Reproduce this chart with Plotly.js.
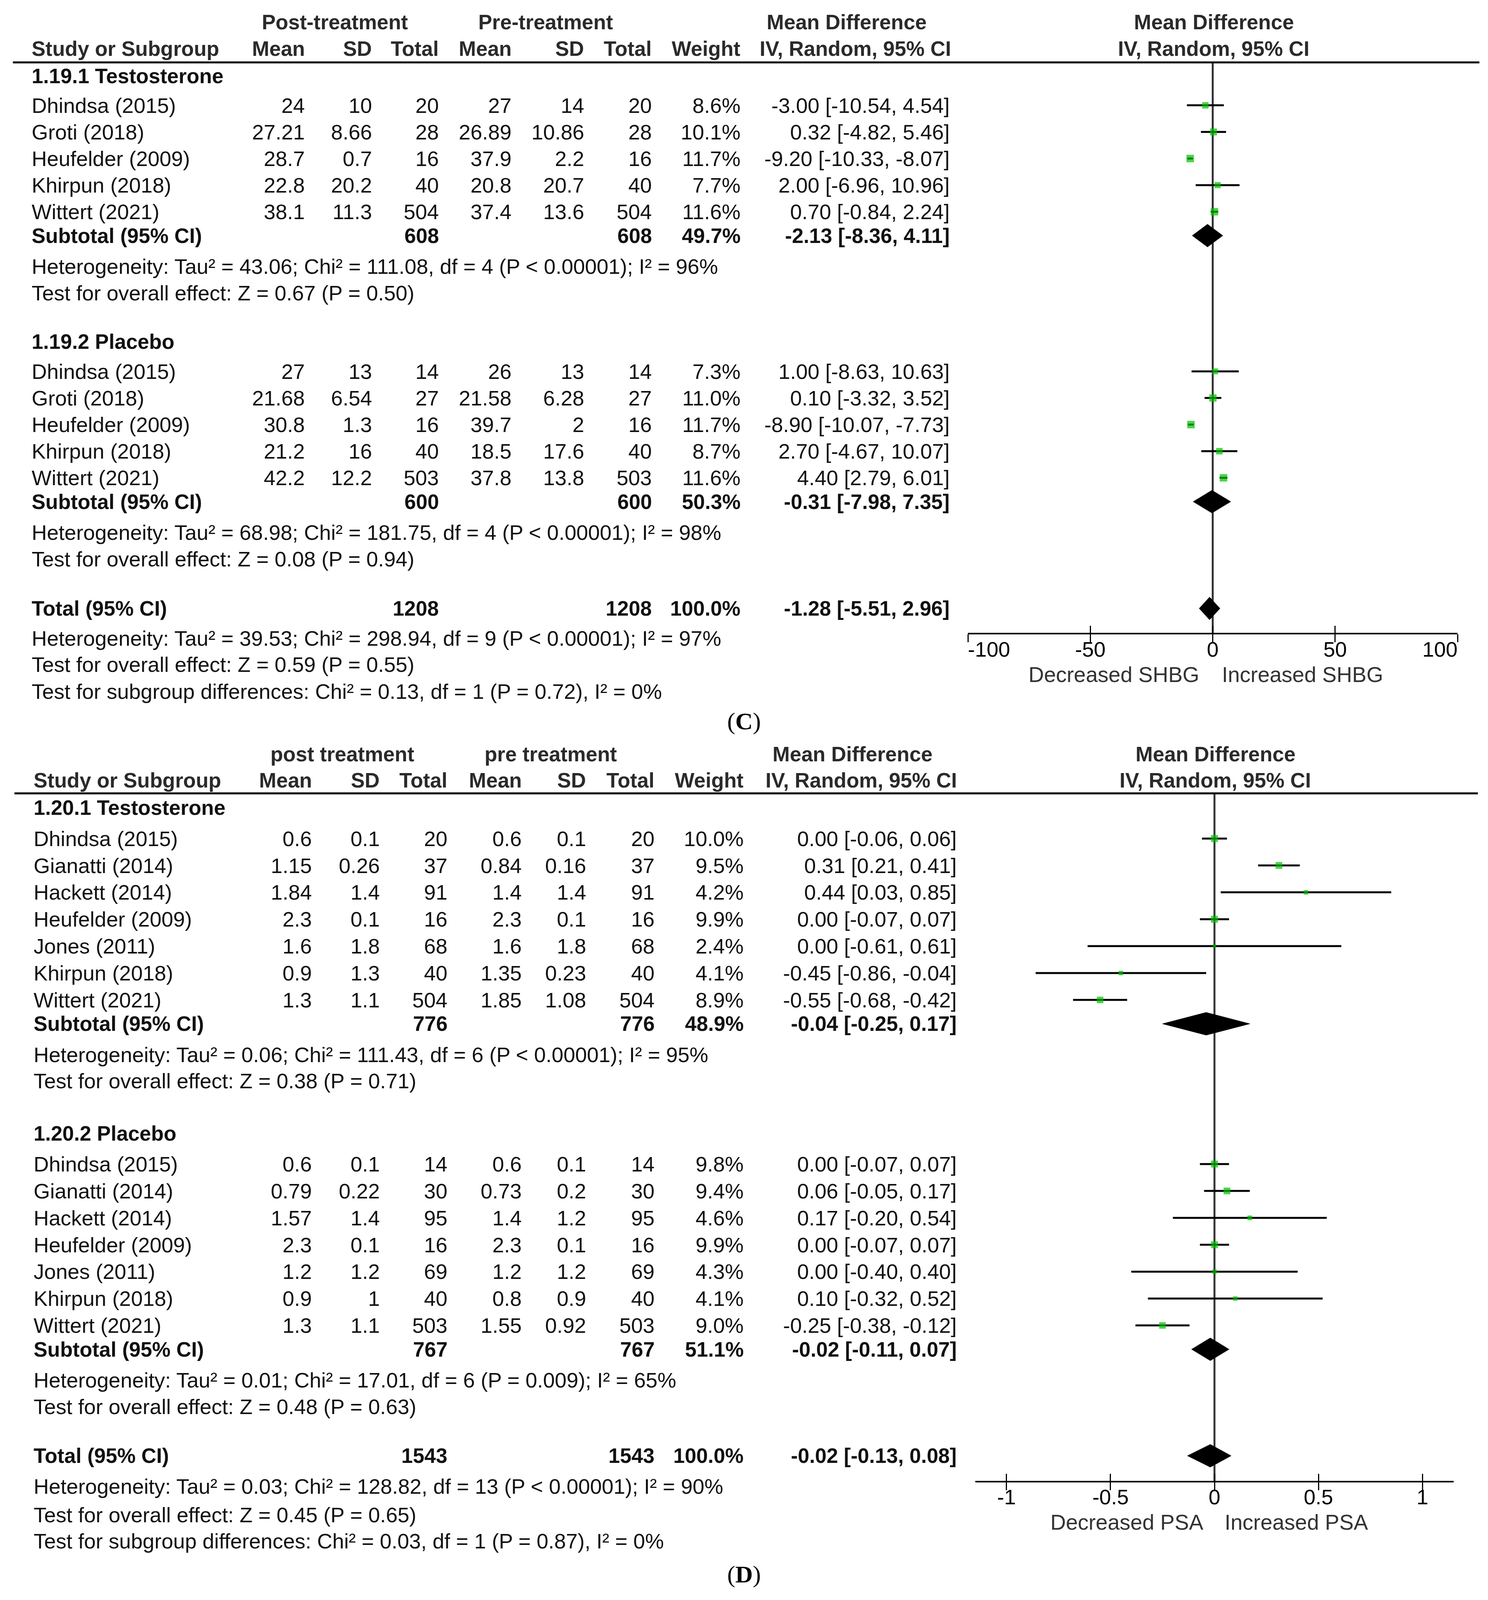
<!DOCTYPE html>
<html><head><meta charset="utf-8">
<script src="https://cdn.plot.ly/plotly-3.0.1.min.js"></script>
<style>html,body{margin:0;padding:0;background:#fff;overflow:hidden}</style>
</head><body><div id="chart" style="width:3808px"></div>
<script>
// ================= DATA =================
// Row format: [study, postMean, postSD, postTotal, preMean, preSD, preTotal, weight%, MD, lower, upper]
const cHeaderGroups = ['Post-treatment', 'Pre-treatment'];
const cGroupNames = ['1.19.1 Testosterone', '1.19.2 Placebo'];
const cRowsTestosterone = [
  ['Dhindsa (2015)', 24, 10, 20, 27, 14, 20, 8.6, -3.00, -10.54, 4.54],
  ['Groti (2018)', 27.21, 8.66, 28, 26.89, 10.86, 28, 10.1, 0.32, -4.82, 5.46],
  ['Heufelder (2009)', 28.7, 0.7, 16, 37.9, 2.2, 16, 11.7, -9.20, -10.33, -8.07],
  ['Khirpun (2018)', 22.8, 20.2, 40, 20.8, 20.7, 40, 7.7, 2.00, -6.96, 10.96],
  ['Wittert (2021)', 38.1, 11.3, 504, 37.4, 13.6, 504, 11.6, 0.70, -0.84, 2.24]
];
const cRowsPlacebo = [
  ['Dhindsa (2015)', 27, 13, 14, 26, 13, 14, 7.3, 1.00, -8.63, 10.63],
  ['Groti (2018)', 21.68, 6.54, 27, 21.58, 6.28, 27, 11.0, 0.10, -3.32, 3.52],
  ['Heufelder (2009)', 30.8, 1.3, 16, 39.7, 2, 16, 11.7, -8.90, -10.07, -7.73],
  ['Khirpun (2018)', 21.2, 16, 40, 18.5, 17.6, 40, 8.7, 2.70, -4.67, 10.07],
  ['Wittert (2021)', 42.2, 12.2, 503, 37.8, 13.8, 503, 11.6, 4.40, 2.79, 6.01]
];
// [postTotal, preTotal, weight, MD, lower, upper]
const cSubtotals = [[608, 608, 49.7, -2.13, -8.36, 4.11], [600, 600, 50.3, -0.31, -7.98, 7.35]];
const cTotal = [1208, 1208, 100.0, -1.28, -5.51, 2.96];
const cHeterogeneity = [
  'Heterogeneity: Tau² = 43.06; Chi² = 111.08, df = 4 (P &lt; 0.00001); I² = 96%',
  'Heterogeneity: Tau² = 68.98; Chi² = 181.75, df = 4 (P &lt; 0.00001); I² = 98%'
];
const cOverall = ['Test for overall effect: Z = 0.67 (P = 0.50)', 'Test for overall effect: Z = 0.08 (P = 0.94)'];
const cTotalTexts = [
  'Heterogeneity: Tau² = 39.53; Chi² = 298.94, df = 9 (P &lt; 0.00001); I² = 97%',
  'Test for overall effect: Z = 0.59 (P = 0.55)',
  'Test for subgroup differences: Chi² = 0.13, df = 1 (P = 0.72), I² = 0%'
];
const cTicks = [-100, -50, 0, 50, 100];
const cAxisLabels = ['Decreased SHBG', 'Increased SHBG'];

const dHeaderGroups = ['post treatment', 'pre treatment'];
const dGroupNames = ['1.20.1 Testosterone', '1.20.2 Placebo'];
const dRowsTestosterone = [
  ['Dhindsa (2015)', 0.6, 0.1, 20, 0.6, 0.1, 20, 10.0, 0.00, -0.06, 0.06],
  ['Gianatti (2014)', 1.15, 0.26, 37, 0.84, 0.16, 37, 9.5, 0.31, 0.21, 0.41],
  ['Hackett (2014)', 1.84, 1.4, 91, 1.4, 1.4, 91, 4.2, 0.44, 0.03, 0.85],
  ['Heufelder (2009)', 2.3, 0.1, 16, 2.3, 0.1, 16, 9.9, 0.00, -0.07, 0.07],
  ['Jones (2011)', 1.6, 1.8, 68, 1.6, 1.8, 68, 2.4, 0.00, -0.61, 0.61],
  ['Khirpun (2018)', 0.9, 1.3, 40, 1.35, 0.23, 40, 4.1, -0.45, -0.86, -0.04],
  ['Wittert (2021)', 1.3, 1.1, 504, 1.85, 1.08, 504, 8.9, -0.55, -0.68, -0.42]
];
const dRowsPlacebo = [
  ['Dhindsa (2015)', 0.6, 0.1, 14, 0.6, 0.1, 14, 9.8, 0.00, -0.07, 0.07],
  ['Gianatti (2014)', 0.79, 0.22, 30, 0.73, 0.2, 30, 9.4, 0.06, -0.05, 0.17],
  ['Hackett (2014)', 1.57, 1.4, 95, 1.4, 1.2, 95, 4.6, 0.17, -0.20, 0.54],
  ['Heufelder (2009)', 2.3, 0.1, 16, 2.3, 0.1, 16, 9.9, 0.00, -0.07, 0.07],
  ['Jones (2011)', 1.2, 1.2, 69, 1.2, 1.2, 69, 4.3, 0.00, -0.40, 0.40],
  ['Khirpun (2018)', 0.9, 1, 40, 0.8, 0.9, 40, 4.1, 0.10, -0.32, 0.52],
  ['Wittert (2021)', 1.3, 1.1, 503, 1.55, 0.92, 503, 9.0, -0.25, -0.38, -0.12]
];
const dSubtotals = [[776, 776, 48.9, -0.04, -0.25, 0.17], [767, 767, 51.1, -0.02, -0.11, 0.07]];
const dTotal = [1543, 1543, 100.0, -0.02, -0.13, 0.08];
const dHeterogeneity = [
  'Heterogeneity: Tau² = 0.06; Chi² = 111.43, df = 6 (P &lt; 0.00001); I² = 95%',
  'Heterogeneity: Tau² = 0.01; Chi² = 17.01, df = 6 (P = 0.009); I² = 65%'
];
const dOverall = ['Test for overall effect: Z = 0.38 (P = 0.71)', 'Test for overall effect: Z = 0.48 (P = 0.63)'];
const dTotalTexts = [
  'Heterogeneity: Tau² = 0.03; Chi² = 128.82, df = 13 (P &lt; 0.00001); I² = 90%',
  'Test for overall effect: Z = 0.45 (P = 0.65)',
  'Test for subgroup differences: Chi² = 0.03, df = 1 (P = 0.87), I² = 0%'
];
const dTicks = [-1, -0.5, 0, 0.5, 1];
const dAxisLabels = ['Decreased PSA', 'Increased PSA'];

const colHeaders = ['Mean', 'SD', 'Total', 'Mean', 'SD', 'Total', 'Weight'];

// ================= LAYOUT (pixel geometry, in reference-image units) =================
const W = 3808, H = 4360;
// the visible page may be shorter than the reference; fit the whole figure into it
const VIEW_H = (window.innerHeight && window.innerHeight > 500) ? Math.min(window.innerHeight, H) : H;
document.getElementById('chart').style.height = VIEW_H + 'px';

const FONT = 'Liberation Sans, Arial, sans-serif';
const SERIF = 'Liberation Serif, Times New Roman, serif';
const TXT = '#111';
const HC = '#2a2a2a';

const panelC = {
  letter: 'C', letterY: 1966, headerGroups: cHeaderGroups, groupNames: cGroupNames,
  groups: [cRowsTestosterone, cRowsPlacebo], subtotals: cSubtotals, total: cTotal,
  het: cHeterogeneity, overall: cOverall, totalTexts: cTotalTexts, ticks: cTicks, axisLabels: cAxisLabels,
  hY1: 60, hY2: 133, lineY: 170, lineX: [33, 3786], left: 79,
  colRight: [782, 954, 1125, 1311, 1497, 1670, 1897], mdRight: 2432,
  grpCenters: [857, 1396], mdHdr: [2166, 2189], forestHdr: 3106,
  groupLabelY: [207, 931], firstRowY: [287, 1012], rowStep: 72.5,
  totalY: 1658, totalTextY: [1739, 1811, 1884],
  axisY: 1727, tickLabelY: 1775, axisTitleY: 1838, axisPx: [2477, 3730], range: [-100, 100],
  decRight: 3071, incLeft: 3125, xa: 'x', xaOver: 'x3'
};
const panelD = {
  letter: 'D', letterY: 4290, headerGroups: dHeaderGroups, groupNames: dGroupNames,
  groups: [dRowsTestosterone, dRowsPlacebo], subtotals: dSubtotals, total: dTotal,
  het: dHeterogeneity, overall: dOverall, totalTexts: dTotalTexts, ticks: dTicks, axisLabels: dAxisLabels,
  hY1: 2055, hY2: 2126, lineY: 2162, lineX: [37, 3782], left: 84,
  colRight: [800, 974, 1147, 1337, 1502, 1677, 1905], mdRight: 2450,
  grpCenters: [876, 1409], mdHdr: [2181, 2204], forestHdr: 3110,
  groupLabelY: [2201, 3089], firstRowY: [2285, 3172], rowStep: 73.3,
  totalY: 3967, totalTextY: [4050, 4128, 4199],
  axisY: 4037, tickLabelY: 4085, axisTitleY: 4148, axisPx: [2496, 3720], range: [-1.15, 1.15],
  decRight: 3082, incLeft: 3132, xa: 'x2', xaOver: 'x4'
};

const SUB_OFF = 65, HET_OFF = 84, TEST_OFF = 72, DIAMOND_HALF = 31;

const annotations = [], shapes = [], traces = [];

function ann(text, xpx, ypx, anchor, opts) {
  opts = opts || {};
  annotations.push({
    text: opts.bold ? '<b>' + text + '</b>' : text,
    x: xpx / W, xref: 'paper', y: ypx, yref: 'y',
    xanchor: anchor, yanchor: 'middle', showarrow: false,
    font: { family: opts.family || FONT, size: opts.size || (opts.bold ? 53 : 54), color: opts.color || TXT }
  });
}
const fmt = v => String(v);
const fmtMD = (m, l, h) => m.toFixed(2) + ' [' + l.toFixed(2) + ', ' + h.toFixed(2) + ']';

function buildPanel(P) {
  ann(P.headerGroups[0], P.grpCenters[0], P.hY1, 'center', { bold: true, color: HC });
  ann(P.headerGroups[1], P.grpCenters[1], P.hY1, 'center', { bold: true, color: HC });
  ann('Mean Difference', P.mdHdr[0], P.hY1, 'center', { bold: true, color: HC });
  ann('Mean Difference', P.forestHdr, P.hY1, 'center', { bold: true, color: HC });
  ann('Study or Subgroup', P.left, P.hY2, 'left', { bold: true, color: HC });
  colHeaders.forEach((h, i) => ann(h, P.colRight[i], P.hY2, 'right', { bold: true, color: HC }));
  ann('IV, Random, 95% CI', P.mdHdr[1], P.hY2, 'center', { bold: true, color: HC });
  ann('IV, Random, 95% CI', P.forestHdr, P.hY2, 'center', { bold: true, color: HC });
  shapes.push({ type: 'line', xref: 'paper', yref: 'y', x0: P.lineX[0] / W, x1: P.lineX[1] / W,
    y0: P.lineY, y1: P.lineY, line: { color: '#000', width: 5 } });

  const sqX = [], sqY = [], sqS = [], ciX = [], ciY = [], dmX = [], dmY = [];
  function diamond(md, lo, hi, y) {
    dmX.push(lo, md, hi, md, lo, null);
    dmY.push(y, y - DIAMOND_HALF, y, y + DIAMOND_HALF, y, null);
  }

  P.groups.forEach((rows, g) => {
    ann(P.groupNames[g], P.left, P.groupLabelY[g], 'left', { bold: true });
    let y = P.firstRowY[g];
    rows.forEach((r, i) => {
      y = P.firstRowY[g] + i * P.rowStep;
      ann(r[0], P.left, y, 'left');
      for (let c = 1; c <= 6; c++) ann(fmt(r[c]), P.colRight[c - 1], y, 'right');
      ann(r[7].toFixed(1) + '%', P.colRight[6], y, 'right');
      ann(fmtMD(r[8], r[9], r[10]), P.mdRight, y, 'right');
      sqX.push(r[8]); sqY.push(y); sqS.push(5.6 * Math.sqrt(r[7]));
      ciX.push(r[9], r[10], null); ciY.push(y, y, null);
    });
    const s = P.subtotals[g];
    const ys = y + SUB_OFF;
    ann('Subtotal (95% CI)', P.left, ys, 'left', { bold: true });
    ann(fmt(s[0]), P.colRight[2], ys, 'right', { bold: true });
    ann(fmt(s[1]), P.colRight[5], ys, 'right', { bold: true });
    ann(s[2].toFixed(1) + '%', P.colRight[6], ys, 'right', { bold: true });
    ann(fmtMD(s[3], s[4], s[5]), P.mdRight, ys, 'right', { bold: true });
    diamond(s[3], s[4], s[5], ys);
    ann(P.het[g], P.left, ys + HET_OFF, 'left');
    ann(P.overall[g], P.left, ys + HET_OFF + TEST_OFF, 'left');
  });

  const t = P.total;
  ann('Total (95% CI)', P.left, P.totalY, 'left', { bold: true });
  ann(fmt(t[0]), P.colRight[2], P.totalY, 'right', { bold: true });
  ann(fmt(t[1]), P.colRight[5], P.totalY, 'right', { bold: true });
  ann(t[2].toFixed(1) + '%', P.colRight[6], P.totalY, 'right', { bold: true });
  ann(fmtMD(t[3], t[4], t[5]), P.mdRight, P.totalY, 'right', { bold: true });
  diamond(t[3], t[4], t[5], P.totalY);
  P.totalTexts.forEach((s, i) => ann(s, P.left, P.totalTextY[i], 'left'));

  ann(P.axisLabels[0], P.decRight, P.axisTitleY, 'right', { size: 55, color: '#333' });
  ann(P.axisLabels[1], P.incLeft, P.axisTitleY, 'left', { size: 55, color: '#333' });
  ann('(<b>' + P.letter + '</b>)', 1904, P.letterY, 'center', { family: SERIF, size: 62, color: '#000' });

  shapes.push({ type: 'line', xref: P.xa, yref: 'y', x0: 0, x1: 0, y0: P.lineY, y1: P.axisY,
    layer: 'below', line: { color: '#333', width: 5 } });

  traces.push({ type: 'scatter', mode: 'lines', x: ciX, y: ciY, xaxis: P.xa, yaxis: 'y',
    line: { color: '#000', width: 5 }, hoverinfo: 'skip', showlegend: false, cliponaxis: false });
  traces.push({ type: 'scatter', mode: 'markers', x: sqX, y: sqY, xaxis: P.xa, yaxis: 'y',
    marker: { symbol: 'square', color: '#00c000', size: sqS, line: { width: 0 } },
    hoverinfo: 'skip', showlegend: false, cliponaxis: false });
  traces.push({ type: 'scatter', mode: 'lines', x: dmX, y: dmY, xaxis: P.xa, yaxis: 'y',
    fill: 'toself', fillcolor: '#000', line: { color: '#000', width: 1 },
    hoverinfo: 'skip', showlegend: false, cliponaxis: false });
  traces.push({ type: 'scatter', mode: 'text', x: P.ticks, y: P.ticks.map(() => P.tickLabelY),
    xaxis: P.xaOver, yaxis: 'y', text: P.ticks.map(String),
    textposition: P.ticks.map(v => v === P.range[0] ? 'middle right' : (v === P.range[1] ? 'middle left' : 'middle center')),
    textfont: { family: FONT, size: 54, color: '#000' }, hoverinfo: 'skip', showlegend: false, cliponaxis: false });
}

buildPanel(panelC);
buildPanel(panelD);

function axisPair(P) {
  const dom = [P.axisPx[0] / W, P.axisPx[1] / W];
  const pos = 1 - P.axisY / H;
  const base = { domain: dom, range: P.range, anchor: 'free', position: pos, tickvals: P.ticks,
    tickwidth: 3, tickcolor: '#000', ticklen: 20, showticklabels: false, showgrid: false,
    zeroline: false, fixedrange: true };
  return [
    Object.assign({}, base, { ticks: 'outside', showline: true, linewidth: 4, linecolor: '#000' }),
    Object.assign({}, base, { ticks: 'inside', showline: false, overlaying: P.xa })
  ];
}
const [axC, axCo] = axisPair(panelC);
const [axD, axDo] = axisPair(panelD);

const layout = {
  width: W, height: VIEW_H, margin: { l: 0, r: 0, t: 0, b: 0 },
  paper_bgcolor: '#fff', plot_bgcolor: 'rgba(0,0,0,0)', showlegend: false,
  xaxis: axC, xaxis2: axD, xaxis3: axCo, xaxis4: axDo,
  yaxis: { range: [H, 0], domain: [0, 1], visible: false, fixedrange: true },
  annotations: annotations, shapes: shapes
};
Plotly.newPlot('chart', traces, layout, { staticPlot: true, displayModeBar: false });
</script></body></html>
